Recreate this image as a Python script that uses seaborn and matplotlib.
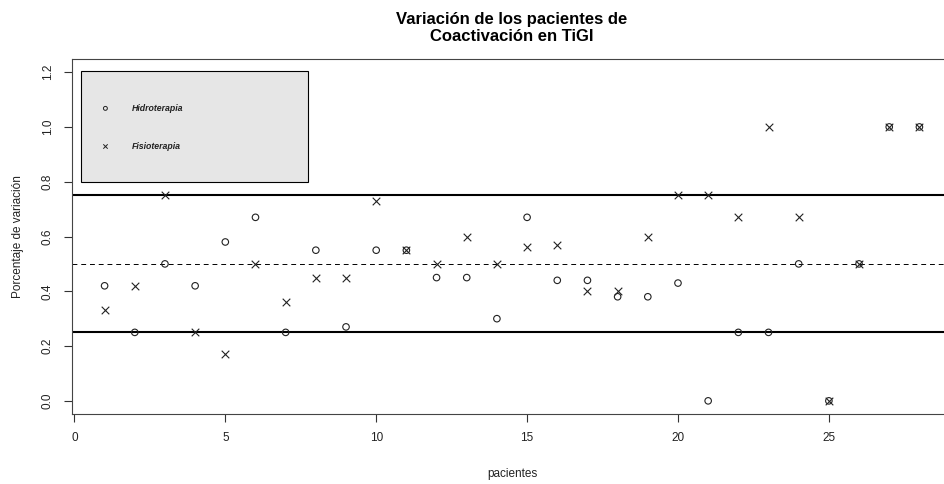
import numpy as np
import pandas as pd
import seaborn as sns
import matplotlib
matplotlib.use("Agg")
import matplotlib.pyplot as plt
from matplotlib.patches import Rectangle

pacientes = list(range(1, 29))
hidroterapia = [0.42, 0.25, 0.50, 0.42, 0.58, 0.67, 0.25, 0.55, 0.27, 0.55,
                0.55, 0.45, 0.45, 0.30, 0.67, 0.44, 0.44, 0.38, 0.38, 0.43,
                0.00, 0.25, 0.25, 0.50, 0.00, 0.50, 1.00, 1.00]
fisioterapia = [0.33, 0.42, 0.75, 0.25, 0.17, 0.50, 0.36, 0.45, 0.45, 0.73,
                0.55, 0.50, 0.60, 0.50, 0.56, 0.57, 0.40, 0.40, 0.60, 0.75,
                0.75, 0.67, 1.00, 0.67, 0.00, 0.50, 1.00, 1.00]
series_labels = ["Hidroterapia", "Fisioterapia"]
ref_lines = [0.25, 0.50, 0.75]
x_ticks = [0, 5, 10, 15, 20, 25]
y_ticks = [0.0, 0.2, 0.4, 0.6, 0.8, 1.0, 1.2]
title = "Variación de los pacientes de\nCoactivación en TiGI"
xlabel = "pacientes"
ylabel = "Porcentaje de variación"

df = pd.DataFrame({"pacientes": pacientes,
                   "Hidroterapia": hidroterapia,
                   "Fisioterapia": fisioterapia})

sns.set_style("white")
plt.rcParams["font.family"] = ["Liberation Sans", "DejaVu Sans"]

fig = plt.figure(figsize=(9.44, 4.84), dpi=100)
W, H = 944, 484
ax = fig.add_axes([72 / W, 1 - 414 / H, (952 - 72) / W, (414 - 59) / H])

txt_col = "#222222"

# reference lines
ax.axhline(ref_lines[0], color="black", lw=1.5, zorder=1)
ax.axhline(ref_lines[2], color="black", lw=1.5, zorder=1)
ax.axhline(ref_lines[1], color="black", lw=0.7, ls=(0, (5, 4)), zorder=1)

sns.scatterplot(data=df, x="pacientes", y="Hidroterapia", marker="o", s=22,
                facecolor="none", edgecolor="#222222", linewidth=0.8, ax=ax, zorder=3)
sns.scatterplot(data=df, x="pacientes", y="Fisioterapia", marker="x", s=30,
                color="#222222", linewidth=0.8, ax=ax, zorder=3)

ax.set_xlim(-0.08, 29.08)
ax.set_ylim(-0.048, 1.248)
ax.set_xticks(x_ticks)
ax.set_xticklabels([str(v) for v in x_ticks], fontsize=8.5, color=txt_col)
ax.set_yticks(y_ticks)
ax.set_yticklabels([f"{v:.1f}" for v in y_ticks], fontsize=8.5, color=txt_col,
                   rotation=90, va="center")
ax.tick_params(axis="both", direction="out", length=6, width=0.8,
               color="#333333", pad=7, left=True, bottom=True)
for s in ax.spines.values():
    s.set_color("#444444")
    s.set_linewidth(0.8)

ax.set_xlabel(xlabel, fontsize=8.5, color=txt_col, labelpad=17)
ax.set_ylabel(ylabel, fontsize=8.5, color=txt_col, labelpad=13)
ax.set_title(title, fontsize=12, fontweight="bold", color="black", pad=13,
             linespacing=1.15)

# legend box
x0, x1 = (80.7 - 74) / 30.2, (307.7 - 74) / 30.2
y0, y1 = (400 - 182.3) / 273, (400 - 71.7) / 273
ax.add_patch(Rectangle((x0, y0), x1 - x0, y1 - y0, facecolor="#e6e6e6",
                       edgecolor="black", lw=0.8, zorder=2))
lx = (105 - 74) / 30.2
tx = (131 - 74) / 30.2
ly1 = (400 - 108.5) / 273
ly2 = (400 - 146.5) / 273
ax.scatter([lx], [ly1], marker="o", s=8, facecolor="none", edgecolor="#222222",
           linewidth=0.7, zorder=3)
ax.scatter([lx], [ly2], marker="x", s=10, color="#222222", linewidth=0.7, zorder=3)
ax.text(tx, ly1, series_labels[0], fontsize=6.3, fontweight="bold", style="italic",
        va="center", ha="left", color=txt_col, zorder=3)
ax.text(tx, ly2, series_labels[1], fontsize=6.3, fontweight="bold", style="italic",
        va="center", ha="left", color=txt_col, zorder=3)

fig.savefig("out.png", dpi=100)
